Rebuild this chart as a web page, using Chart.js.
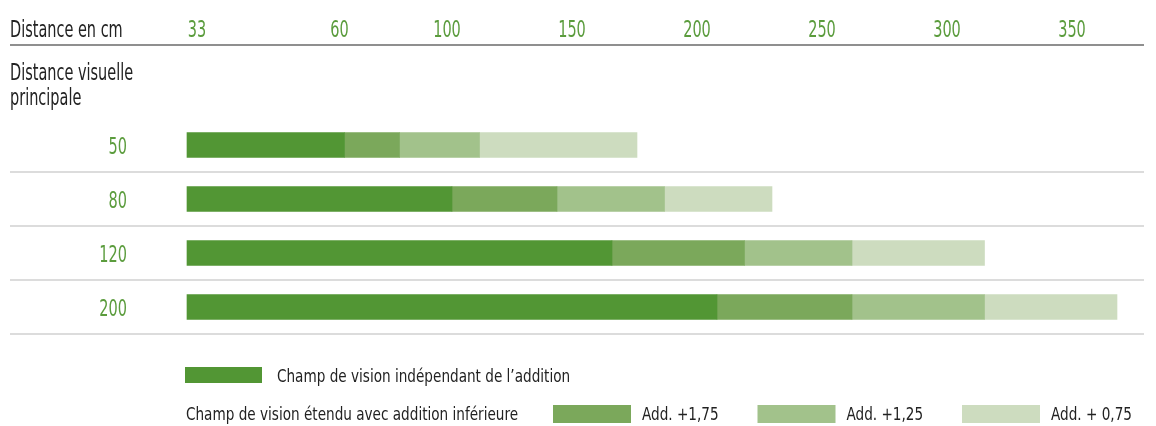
<!DOCTYPE html>
<html lang="fr">
<head>
<meta charset="utf-8">
<title>Champ de vision</title>
<script src="https://cdn.jsdelivr.net/npm/chart.js@4"></script>
<style>
  body { margin: 0; background: #fff; }
  #wrap { width: 1156px; height: 426px; }
</style>
</head>
<body>
<div id="wrap"><canvas id="champChart" width="1156" height="426"></canvas></div>
<script>
// distances visuelles principales (cm)
const rows = ['50', '80', '120', '200'];

// fin de chaque zone, en cm sur l'axe
const barStart = -4;
const indep = [59, 102, 166, 208];
const add175 = [81, 144, 219, 262];
const add125 = [113, 187, 262, 315];
const add075 = [176, 230, 315, 368];

// graduations de l'axe du haut
const tickValues = [0, 57, 100, 150, 200, 250, 300, 350];
const tickLabels = ['33', '60', '100', '150', '200', '250', '300', '350'];

const FONT = '"DejaVu Sans Condensed", "DejaVu Sans", sans-serif';
const GREEN_TXT = '#5b9c3d';
const DARK_TXT = '#222';
const colors = ['#529634', '#7ba85b', '#a2c28b', '#cddcbf'];

// segments flottants [début, fin]
function seg(from, to) {
    return to.map((v, i) => [from[i], v]);
}
const starts = rows.map(() => barStart);

const datasets = [
    { label: "Champ de vision indépendant de l’addition", data: seg(starts, indep) },
    { label: 'Add. +1,75', data: seg(indep, add175) },
    { label: 'Add. +1,25', data: seg(add175, add125) },
    { label: 'Add. + 0,75', data: seg(add125, add075) }
].map((d, i) => Object.assign(d, {
    backgroundColor: colors[i],
    borderWidth: 0,
    barThickness: 25,
    grouped: false
}));

// texte resserré horizontalement (police étroite)
function narrowText(ctx, text, x, y, size, sx, color, align) {
    ctx.save();
    ctx.translate(x, y);
    ctx.scale(sx, 1);
    ctx.font = size + 'px ' + FONT;
    ctx.fillStyle = color;
    ctx.textAlign = align || 'left';
    ctx.textBaseline = 'alphabetic';
    ctx.fillText(text, 0, 0);
    ctx.restore();
}

// lignes, titres, graduations et légende
const decor = {
    id: 'decor',
    beforeDatasetsDraw(chart) {
        const ctx = chart.ctx;
        const y = chart.scales.y;
        const band = y.getPixelForValue(1) - y.getPixelForValue(0);
        ctx.save();
        ctx.lineWidth = 2;
        ctx.strokeStyle = '#8f8f8f';
        ctx.beginPath();
        ctx.moveTo(10, 45);
        ctx.lineTo(1144, 45);
        ctx.stroke();
        ctx.strokeStyle = '#dcdcdc';
        rows.forEach((r, i) => {
            const yy = Math.round(y.getPixelForValue(i) + band / 2);
            ctx.beginPath();
            ctx.moveTo(10, yy);
            ctx.lineTo(1144, yy);
            ctx.stroke();
        });
        ctx.restore();
    },
    afterDraw(chart) {
        const ctx = chart.ctx;
        const xs = chart.scales.x;
        const ys = chart.scales.y;

        narrowText(ctx, 'Distance en cm', 10, 37, 23, 0.7, DARK_TXT);
        narrowText(ctx, 'Distance visuelle', 10, 80, 23, 0.7, DARK_TXT);
        narrowText(ctx, 'principale', 10, 105, 23, 0.7, DARK_TXT);

        xs.ticks.forEach((t, i) => {
            narrowText(ctx, t.label, xs.getPixelForTick(i), 37, 23, 0.7, GREEN_TXT, 'center');
        });
        ys.ticks.forEach((t, i) => {
            narrowText(ctx, t.label, 127, ys.getPixelForTick(i) + 9, 23, 0.7, GREEN_TXT, 'right');
        });

        // légende
        ctx.fillStyle = colors[0];
        ctx.fillRect(185, 367, 77, 16);
        narrowText(ctx, datasets[0].label, 277, 382, 18, 0.84, DARK_TXT);

        narrowText(ctx, 'Champ de vision étendu avec addition inférieure', 186, 420, 18, 0.84, DARK_TXT);
        for (let i = 1; i < 4; i++) {
            const x = 553 + (i - 1) * 204.5;
            ctx.fillStyle = colors[i];
            ctx.fillRect(x, 405, 78, 18);
            narrowText(ctx, datasets[i].label, x + 89, 420, 18, 0.84, DARK_TXT);
        }
    }
};

new Chart(document.getElementById('champChart'), {
    type: 'bar',
    data: { labels: rows, datasets: datasets },
    options: {
        indexAxis: 'y',
        responsive: false,
        animation: false,
        layout: { padding: { left: 0, right: 9, top: 0, bottom: 92 } },
        plugins: {
            legend: { display: false },
            tooltip: { enabled: false }
        },
        scales: {
            x: {
                position: 'top',
                min: -20,
                max: 380,
                afterFit(scale) {
                    scale.height = 118;
                    scale.paddingLeft = 0;
                    scale.paddingRight = 0;
                },
                afterBuildTicks(scale) {
                    scale.ticks = tickValues.map(v => ({ value: v }));
                },
                ticks: {
                    padding: 77,
                    color: 'rgba(0,0,0,0)',
                    font: { family: FONT, size: 23 },
                    maxRotation: 0,
                    autoSkip: false,
                    callback: (v, i) => tickLabels[i]
                },
                grid: { display: false, drawTicks: false },
                border: { display: false }
            },
            y: {
                afterFit(scale) {
                    scale.width = 147;
                    scale.paddingTop = 0;
                    scale.paddingBottom = 0;
                },
                ticks: {
                    padding: 20,
                    color: 'rgba(0,0,0,0)',
                    font: { family: FONT, size: 23 }
                },
                grid: { display: false, drawTicks: false },
                border: { display: false }
            }
        }
    },
    plugins: [decor]
});
</script>
</body>
</html>
